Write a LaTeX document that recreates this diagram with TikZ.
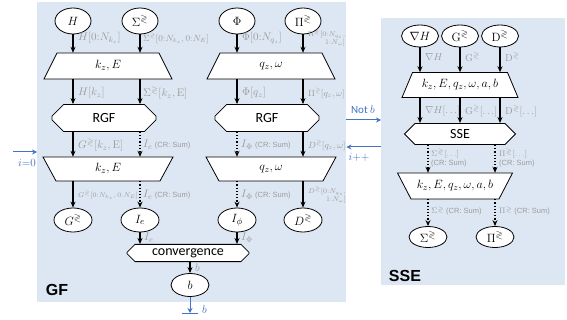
\documentclass[tikz,border=0pt]{standalone}
\usepackage{amssymb}
\usepackage[no-math]{fontspec}
\setmainfont{Carlito}
\newfontfamily\arialf{Liberation Sans}
\usetikzlibrary{shapes.geometric,shapes.misc,arrows.meta}
\definecolor{panelc}{HTML}{DDE7F3}
\definecolor{labc}{HTML}{9C9C9C}
\definecolor{bluec}{HTML}{4472C4}
\newcommand{\gl}{\gtrless}
\newcommand{\crs}{{\arialf\fontsize{7.5}{8.5}\selectfont(CR: Sum)}}
% name, cx, cy, half top width, half bottom width, half height, text
\newcommand{\trapnode}[7]{%
  \draw[shp] ({#2-#4},{#3-#6}) -- ({#2+#4},{#3-#6}) -- ({#2+#5},{#3+#6}) -- ({#2-#5},{#3+#6}) -- cycle;
  \node[tnode,minimum height={2*#6}] (#1) at (#2,#3) {#7};}
\begin{document}
\begin{tikzpicture}[x=1pt,y=-1pt,
  panel/.style={fill=panelc,draw=none,inner sep=0pt},
  ell/.style={ellipse,draw,fill=white,line width=0.8pt,minimum width=36pt,minimum height=26pt,inner sep=0pt,font=\fontsize{13}{15}\selectfont},
  shp/.style={draw,fill=white,line width=0.8pt},
  tnode/.style={inner sep=0pt,font=\fontsize{13}{15}\selectfont},
  cham/.style={chamfered rectangle,chamfered rectangle sep=7pt,draw,fill=white,line width=0.8pt,inner sep=0pt,font=\fontsize{14}{16}\selectfont},
  arr/.style={-{Stealth[length=6pt,width=5pt]},line width=1.2pt},
  darr/.style={arr,dotted},
  barr/.style={-{Stealth[length=5pt,width=5pt]},line width=1pt,bluec},
  lab/.style={text=labc,anchor=west,inner sep=0pt,font=\fontsize{11}{12}\selectfont},
  slab/.style={lab,font=\fontsize{9}{10}\selectfont},
  tlab/.style={lab,font=\fontsize{7}{8}\selectfont,align=right},
  blab/.style={text=bluec,inner sep=0pt,font=\fontsize{11}{13}\selectfont},
  title/.style={font=\fontsize{16}{18}\selectfont\bfseries\arialf,inner sep=0pt}
]
\useasboundingbox (0,0) rectangle (567,320);
% panels
\node[panel,minimum width=309pt,minimum height=300pt,anchor=north west] (GFp) at (37,2) {};
\node[panel,minimum width=184pt,minimum height=267pt,anchor=north west] (SSEp) at (381,18) {};
\node[title] (GFt) at (57,290) {GF};
\node[title] (SSEt) at (405,276) {SSE};

% ---------- GF ----------
\node[ell] (H) at (73,21) {$H$};
\node[ell] (Sig) at (140,21) {$\Sigma^{\gl}$};
\node[ell] (Phi) at (237,21) {$\Phi$};
\node[ell] (Pi) at (303,21) {$\Pi^{\gl}$};

\trapnode{T1}{108}{66}{51}{64}{13}{$k_z,E$}
\trapnode{T2}{271}{66}{51}{64}{13}{$q_z,\omega$}

\node[cham,minimum width=104pt,minimum height=27pt] (R1) at (104,118) {RGF};
\node[cham,minimum width=104pt,minimum height=27pt] (R2) at (267,118) {RGF};

\trapnode{T3}{108}{169}{65}{52}{12}{$k_z,E$}
\trapnode{T4}{271}{169}{65}{52}{12}{$q_z,\omega$}

\node[ell,minimum width=38pt,minimum height=24pt] (G) at (73,220) {$G^{\gl}$};
\node[ell,minimum width=38pt,minimum height=24pt] (Ie) at (140,220) {$I_e$};
\node[ell,minimum width=38pt,minimum height=24pt] (Iphi) at (237,220) {$I_\phi$};
\node[ell,minimum width=38pt,minimum height=24pt] (D) at (303,220) {$D^{\gl}$};

\node[cham,chamfered rectangle sep=4pt,minimum width=122pt,minimum height=16pt] (conv) at (188,253) {convergence};
\node[ell,minimum width=38pt,minimum height=23pt] (b) at (190,285) {$b$};

% arrows GF
\draw[arr] (H) -- (H |- T1.north);
\draw[arr] (Sig) -- (Sig |- T1.north);
\draw[arr] (Phi) -- (Phi |- T2.north);
\draw[arr] (Pi) -- (Pi |- T2.north);
\draw[arr] (H |- T1.south) -- (H |- R1.north);
\draw[arr] (Sig |- T1.south) -- (Sig |- R1.north);
\draw[arr] (Phi |- T2.south) -- (Phi |- R2.north);
\draw[arr] (Pi |- T2.south) -- (Pi |- R2.north);
\draw[arr] (H |- R1.south) -- (H |- T3.north);
\draw[darr] (Sig |- R1.south) -- (Sig |- T3.north);
\draw[darr] (Phi |- R2.south) -- (Phi |- T4.north);
\draw[arr] (Pi |- R2.south) -- (Pi |- T4.north);
\draw[arr] (G |- T3.south) -- (G);
\draw[darr] (Ie |- T3.south) -- (Ie);
\draw[darr] (Iphi |- T4.south) -- (Iphi);
\draw[arr] (D |- T4.south) -- (D);
\draw[arr] (Ie) -- (Ie |- conv.north);
\draw[arr] (Iphi) -- (Iphi |- conv.north);
\draw[arr] (b |- conv.south) -- (b);

% labels GF
\node[lab] (l1) at (78,38) {$H[0{:}N_{k_z}]$};
\node[slab] (l2) at (143,38) {$\Sigma^{\gl}[0{:}N_{k_z},0{:}N_E]$};
\node[lab] (l3) at (242,38) {$\Phi[0{:}N_{q_z}]$};
\node[tlab] (l4) at (308,38) {$\Pi^{\gl}[0{:}N_{q_z},$\\$1{:}N_\omega]$};
\node[lab] (l5) at (78,93) {$H[k_z]$};
\node[lab] (l6) at (143,93) {$\Sigma^{\gl}[k_z,\mathrm{E}]$};
\node[lab] (l7) at (242,93) {$\Phi[q_z]$};
\node[slab] (l8) at (308,93) {$\Pi^{\gl}[q_z,\omega]$};
\node[lab] (l9) at (78,145) {$G^{\gl}[k_z,\mathrm{E}]$};
\node[lab] (l10) at (143,145) {$I_e$ \crs};
\node[lab] (l11) at (241,145) {$I_\Phi$ \crs};
\node[slab] (l12) at (308,145) {$D^{\gl}[q_z,\omega]$};
\node[tlab] (l13) at (78,195) {$G^{\gl}[0{:}N_{k_z},0{:}N_E]$};
\node[lab] (l14) at (143,195) {$I_e$ \crs};
\node[lab] (l15) at (241,195) {$I_\Phi$ \crs};
\node[tlab] (l16) at (308,195) {$D^{\gl}[0{:}N_{q_z},$\\$1{:}N_\omega]$};
\node[lab] (l17) at (144,238) {$I_e$};
\node[lab] (l18) at (241,238) {$I_\Phi$};
\node[lab] (l19) at (195,268) {$b$};

% blue arrows GF
\coordinate (bout) at (190,313);
\draw[barr] (b) -- (bout);
\draw[bluec,line width=1pt] ([xshift=-8pt]bout) -- ([xshift=8pt]bout);
\node[blab,anchor=west] (bl) at (202,310) {$b$};
\coordinate (istart) at (13,152);
\draw[barr] (istart) -- (GFp.west |- istart);
\node[blab] (il) at (27,163) {$i{=}0$};

% ---------- SSE ----------
\node[ell,minimum width=37pt,minimum height=22pt] (gH) at (420,36) {$\nabla H$};
\node[ell,minimum width=37pt,minimum height=22pt] (sG) at (460,36) {$\mathrm{G}^{\gl}$};
\node[ell,minimum width=37pt,minimum height=22pt] (sD) at (500,36) {$\mathrm{D}^{\gl}$};
\trapnode{S1}{460}{85}{47.5}{58}{12.5}{$k_z,E,q_z,\omega,a,b$}
\node[cham,chamfered rectangle sep=6pt,minimum width=111pt,minimum height=19pt] (SSE) at (460,134) {SSE};
\trapnode{S2}{455}{186}{57.5}{44}{13}{$k_z,E,q_z,\omega,a,b$}
\node[ell,minimum width=38pt,minimum height=21pt] (sSig) at (428,237) {$\Sigma^{\gl}$};
\node[ell,minimum width=38pt,minimum height=21pt] (sPi) at (495,237) {$\Pi^{\gl}$};

\draw[arr] (gH) -- (gH |- S1.north);
\draw[arr] (sG) -- (sG |- S1.north);
\draw[arr] (sD) -- (sD |- S1.north);
\draw[arr] (gH |- S1.south) -- (gH |- SSE.north);
\draw[arr] (sG |- S1.south) -- (sG |- SSE.north);
\draw[arr] (sD |- S1.south) -- (sD |- SSE.north);
\draw[darr] (sSig |- SSE.south) -- (sSig |- S2.north);
\draw[darr] (sPi |- SSE.south) -- (sPi |- S2.north);
\draw[darr] (sSig |- S2.south) -- (sSig);
\draw[darr] (sPi |- S2.south) -- (sPi);

\node[lab,font=\fontsize{10}{11}\selectfont] (m1) at (425,57) {$\nabla H$};
\node[lab,font=\fontsize{10}{11}\selectfont] (m2) at (465,57) {$\mathrm{G}^{\gl}$};
\node[lab,font=\fontsize{10}{11}\selectfont] (m3) at (505,57) {$\mathrm{D}^{\gl}$};
\node[lab,font=\fontsize{10}{11}\selectfont] (m4) at (425,111) {$\nabla H[\ldots]$};
\node[lab,font=\fontsize{10}{11}\selectfont] (m5) at (465,111) {$\mathrm{G}^{\gl}[\ldots]$};
\node[lab,font=\fontsize{10}{11}\selectfont] (m6) at (505,111) {$\mathrm{D}^{\gl}[\ldots]$};
\node[lab,align=left,font=\fontsize{8.5}{9.5}\selectfont] (m7) at (431,158) {$\Sigma^{\gl}[\ldots]$\\\crs};
\node[lab,align=left,font=\fontsize{8.5}{9.5}\selectfont] (m8) at (499,158) {$\Pi^{\gl}[\ldots]$\\\crs};
\node[lab,font=\fontsize{8.5}{9.5}\selectfont] (m9) at (431,211) {$\Sigma^{\gl}$ \crs};
\node[lab,font=\fontsize{8.5}{9.5}\selectfont] (m10) at (499,211) {$\Pi^{\gl}$ \crs};

% between panels
\coordinate (nb) at (0,120);
\coordinate (ip) at (0,147);
\draw[barr] (GFp.east |- nb) -- (SSEp.west |- nb);
\draw[barr] (SSEp.west |- ip) -- (GFp.east |- ip);
\node[blab] (nbl) at (363,110) {Not $b$};
\node[blab] (ipl) at (359,157) {$i{+}{+}$};
\end{tikzpicture}
\end{document}
